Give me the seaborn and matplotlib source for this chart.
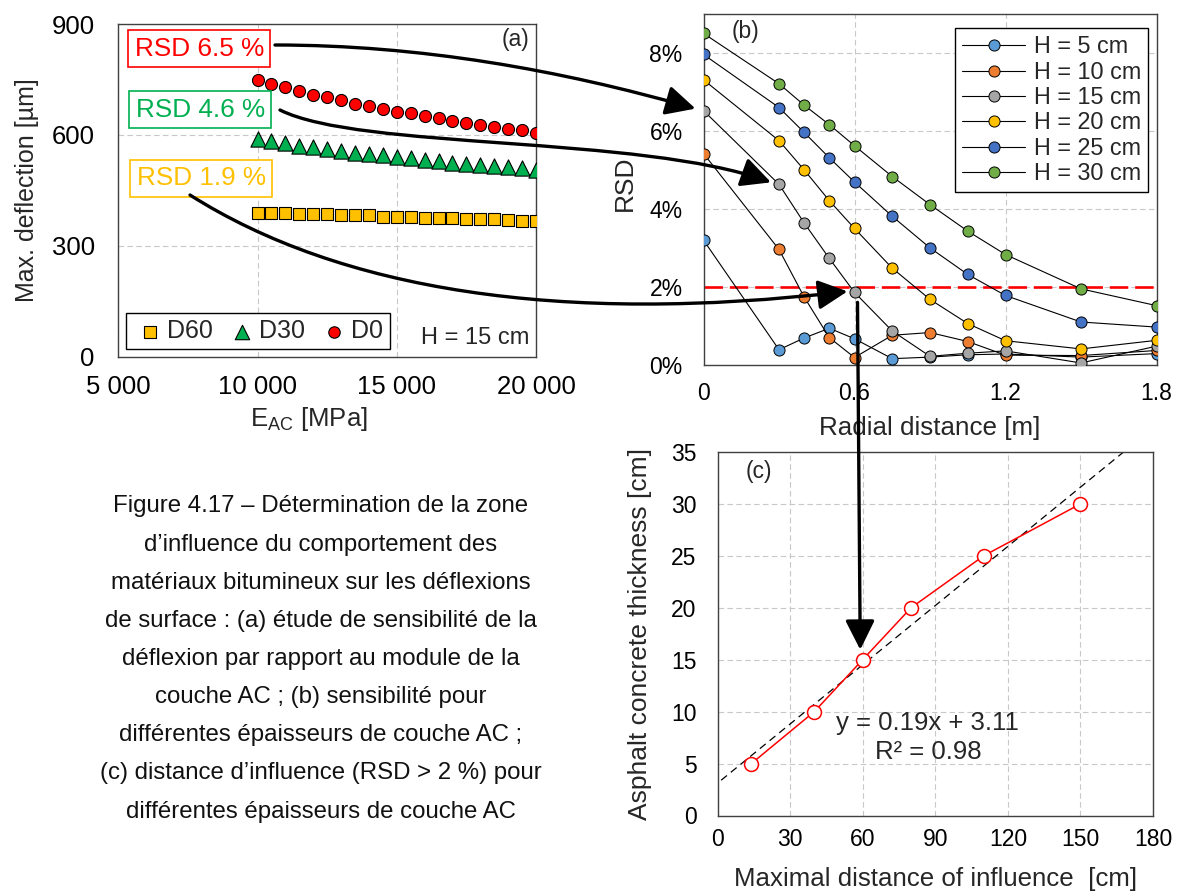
import numpy as np
import seaborn as sns
import matplotlib.pyplot as plt
from matplotlib.path import Path
from matplotlib.patches import FancyArrowPatch
from matplotlib.ticker import FuncFormatter
from matplotlib.transforms import IdentityTransform

# ---- (a) max deflection vs AC modulus (H = 15 cm)
e_ac_mpa = [10000, 10500, 11000, 11500, 12000, 12500, 13000, 13500, 14000, 14500, 15000,
            15500, 16000, 16500, 17000, 17500, 18000, 18500, 19000, 19500, 20000]
d0_um = [748, 738, 730, 720, 709, 702, 694, 684, 677, 669, 663,
         658, 651, 645, 637, 632, 626, 622, 616, 613, 606]
d30_um = [589, 583, 578, 571, 567, 562, 557, 552, 549, 545, 541,
          538, 532, 529, 524, 521, 519, 516, 513, 510, 506]
d60_um = [389, 389, 389, 386, 386, 386, 382, 382, 382, 379, 379,
          379, 376, 376, 376, 372, 372, 372, 369, 368, 367]
rsd_boxes = ["RSD 6.5 %", "RSD 4.6 %", "RSD 1.9 %"]

# ---- (b) RSD vs radial distance for several AC thicknesses
radial_m = [0, 0.3, 0.4, 0.5, 0.6, 0.75, 0.9, 1.05, 1.2, 1.5, 1.8]
rsd_h5 = [3.21, 0.40, 0.70, 0.95, 0.68, 0.17, 0.21, 0.27, 0.29, 0.21, 0.30]
rsd_h10 = [5.43, 2.97, 1.75, 0.71, 0.20, 0.77, 0.84, 0.61, 0.26, 0.25, 0.38]
rsd_h15 = [6.53, 4.64, 3.65, 2.74, 1.87, 0.88, 0.23, 0.31, 0.37, 0.06, 0.49]
rsd_h20 = [7.32, 5.76, 5.01, 4.22, 3.51, 2.49, 1.69, 1.07, 0.63, 0.42, 0.64]
rsd_h25 = [7.97, 6.61, 5.97, 5.32, 4.70, 3.82, 3.01, 2.33, 1.79, 1.11, 0.98]
rsd_h30 = [8.51, 7.22, 6.67, 6.17, 5.63, 4.84, 4.12, 3.44, 2.84, 1.96, 1.53]
h_labels = ["H = 5 cm", "H = 10 cm", "H = 15 cm", "H = 20 cm", "H = 25 cm", "H = 30 cm"]
h_colors = ["#5B9BD5", "#ED7D31", "#A5A5A5", "#FFC000", "#4472C4", "#70AD47"]
rsd_limit = 2.0

# ---- (c) AC thickness vs maximal distance of influence
max_dist_cm = [14, 40, 60, 80, 110, 150]
ac_thick_cm = [5, 10, 15, 20, 25, 30]
fit_slope, fit_intercept, fit_r2 = 0.19, 3.11, 0.98

caption = ("Figure 4.17 – Détermination de la zone\n"
           "d’influence du comportement des\n"
           "matériaux bitumineux sur les déflexions\n"
           "de surface : (a) étude de sensibilité de la\n"
           "déflexion par rapport au module de la\n"
           "couche AC ; (b) sensibilité pour\n"
           "différentes épaisseurs de couche AC ;\n"
           "(c) distance d’influence (RSD > 2 %) pour\n"
           "différentes épaisseurs de couche AC")

sns.set_theme(style="white")
plt.rcParams["font.family"] = ["Liberation Sans", "DejaVu Sans"]
plt.rcParams["mathtext.fontset"] = "custom"
plt.rcParams["mathtext.rm"] = "Liberation Sans"
plt.rcParams["axes.edgecolor"] = "#404040"
plt.rcParams["axes.linewidth"] = 1.0

W, H = 1183, 892
fig = plt.figure(figsize=(W / 100, H / 100), dpi=100)


def box(l, t, r, b):
    # pixel box (top-left origin) -> figure fraction rect
    return [l / W, 1 - b / H, (r - l) / W, (b - t) / H]


def style(ax, tsize, xpad, ypad):
    ax.grid(True, color="#C8C8C8", linestyle=(0, (5, 3)), linewidth=0.8)
    ax.tick_params(length=0, labelsize=tsize, colors="black")
    ax.tick_params(axis="x", pad=xpad)
    ax.tick_params(axis="y", pad=ypad)
    for s in ax.spines.values():
        s.set_visible(True)
        s.set_color("#404040")


grid_kw = dict(frameon=True, fancybox=False, edgecolor="black", framealpha=1, borderaxespad=0)

# ------------------------------------------------------------ panel (a)
ax_a = fig.add_axes(box(118.3, 24, 536, 356.7))
sns.scatterplot(x=e_ac_mpa, y=d60_um, marker="s", color="#FFC000", edgecolor="black",
                linewidth=0.8, s=75, label="D60", ax=ax_a, zorder=3)
sns.scatterplot(x=e_ac_mpa, y=d30_um, marker="^", color="#00B050", edgecolor="black",
                linewidth=0.8, s=120, label="D30", ax=ax_a, zorder=3)
sns.scatterplot(x=e_ac_mpa, y=d0_um, marker="o", color="#FF0000", edgecolor="black",
                linewidth=0.8, s=75, label="D0", ax=ax_a, zorder=3)
ax_a.set_xlim(5000, 20000)
ax_a.set_ylim(0, 900)
ax_a.set_xticks([5000, 10000, 15000, 20000])
ax_a.set_yticks([0, 300, 600, 900])
ax_a.xaxis.set_major_formatter(FuncFormatter(lambda v, p: f"{v:,.0f}".replace(",", " ")))
style(ax_a, 18.5, 13, 17)
ax_a.set_xlabel(r"E$_{\mathregular{AC}}$ [MPa]", fontsize=18.5)
ax_a.set_ylabel("Max. deflection [µm]", fontsize=18)
ax_a.xaxis.set_label_coords(0.4566, -0.145)
ax_a.yaxis.set_label_coords(-0.19, 0.5)
leg_a = ax_a.legend(loc="lower left", bbox_to_anchor=(0.018, 0.022), ncol=3, fontsize=18,
                    handletextpad=0.0, columnspacing=0.45, borderpad=0.25, handlelength=1.4,
                    markerscale=0.95, **grid_kw)
leg_a.get_frame().set_linewidth(1.0)
ax_a.text(0.985, 0.038, "H = 15 cm", transform=ax_a.transAxes, ha="right", va="baseline",
          fontsize=17)
ax_a.text(0.985, 0.952, "(a)", transform=ax_a.transAxes, ha="right", va="center", fontsize=16.5)
box_colors = ["#FF0000", "#00B050", "#FFC000"]
box_pos = [(0.194, 0.925), (0.196, 0.742), (0.199, 0.536)]
for txt, col, (bx, by) in zip(rsd_boxes, box_colors, box_pos):
    ax_a.text(bx, by, txt, transform=ax_a.transAxes, ha="center", va="center", fontsize=18.8,
              color=col, zorder=5,
              bbox=dict(boxstyle="square,pad=0.25", facecolor="white", edgecolor=col, linewidth=1.2))

# ------------------------------------------------------------ panel (b)
ax_b = fig.add_axes(box(703.5, 14.3, 1156.5, 365.3))
ax_b.axhline(rsd_limit, color="red", linewidth=1.9, dashes=(7, 2.6), zorder=2.5)
for lab, vals, col in zip(h_labels, [rsd_h5, rsd_h10, rsd_h15, rsd_h20, rsd_h25, rsd_h30], h_colors):
    sns.lineplot(x=radial_m, y=vals, color="black", linewidth=0.8, marker="o", markersize=8,
                 markerfacecolor=col, markeredgecolor="black", markeredgewidth=0.7,
                 label=lab, ax=ax_b, zorder=3)
ax_b.set_xlim(0, 1.8)
ax_b.set_ylim(0, 9)
ax_b.set_xticks([0, 0.6, 1.2, 1.8])
ax_b.set_xticklabels(["0", "0.6", "1.2", "1.8"])
ax_b.set_yticks([0, 2, 4, 6, 8])
ax_b.yaxis.set_major_formatter(FuncFormatter(lambda v, p: f"{v:.0f}%"))
style(ax_b, 16.5, 12, 15)
ax_b.set_xlabel("Radial distance [m]", fontsize=18.7)
ax_b.set_ylabel("RSD", fontsize=19)
ax_b.xaxis.set_label_coords(0.5, -0.1444)
ax_b.yaxis.set_label_coords(-0.148, 0.52)
leg_b = ax_b.legend(loc="upper right", bbox_to_anchor=(0.981, 0.96), fontsize=16.8,
                    handlelength=2.7, labelspacing=0.1, borderpad=0.3, handletextpad=0.35,
                    **grid_kw)
leg_b.get_frame().set_linewidth(1.0)
ax_b.text(0.092, 0.95, "(b)", transform=ax_b.transAxes, ha="center", va="center", fontsize=16.5)

# ------------------------------------------------------------ panel (c)
ax_c = fig.add_axes(box(717.5, 452, 1153, 815.5))
fit_x = np.array([1.5, (35 - fit_intercept) / fit_slope])
sns.lineplot(x=fit_x, y=fit_slope * fit_x + fit_intercept, color="black", linewidth=0.9,
             linestyle=(0, (6, 4)), ax=ax_c, zorder=2)
sns.lineplot(x=max_dist_cm, y=ac_thick_cm, color="red", linewidth=1.1, marker="o", markersize=10,
             markerfacecolor="white", markeredgecolor="red", markeredgewidth=1.1, ax=ax_c, zorder=3)
ax_c.set_xlim(0, 180)
ax_c.set_ylim(0, 35)
ax_c.set_xticks(range(0, 181, 30))
ax_c.set_yticks(range(0, 36, 5))
style(ax_c, 16.5, 9, 15)
ax_c.set_xlabel("Maximal distance of influence  [cm]", fontsize=18.6)
ax_c.set_ylabel("Asphalt concrete thickness [cm]", fontsize=19)
ax_c.xaxis.set_label_coords(0.5, -0.1417)
ax_c.yaxis.set_label_coords(-0.150, 0.5)
ax_c.text(0.483, 0.2553, f"y = {fit_slope:.2f}x + {fit_intercept:.2f}", transform=ax_c.transAxes,
          ha="center", va="center", fontsize=18.5)
ax_c.text(0.483, 0.1755, f"R² = {fit_r2:.2f}", transform=ax_c.transAxes,
          ha="center", va="center", fontsize=18.5)
ax_c.text(0.095, 0.946, "(c)", transform=ax_c.transAxes, ha="center", va="center", fontsize=16.5)

# ------------------------------------------------------------ caption
fig.text(320.8 / W, 1 - 659 / H, caption, ha="center", va="center", multialignment="center",
         fontsize=17.3, linespacing=1.95, color="#111111")

# ------------------------------------------------------------ arrows
def px(x, y):
    return (x, H - y)


def on(ax, x, y, dx=0, dy=0):
    X, Y = ax.transData.transform((x, y))
    return (X + dx, Y + dy)


def curve_arrow(points, straight=False):
    codes = [Path.MOVETO, Path.LINETO] if straight else [Path.MOVETO] + [Path.CURVE4] * 3
    arr = FancyArrowPatch(path=Path(points, codes), transform=IdentityTransform(),
                          arrowstyle="-|>,head_length=0.9,head_width=0.45",
                          mutation_scale=20, linewidth=2.4, color="black",
                          shrinkA=0, shrinkB=0, zorder=6)
    fig.add_artist(arr)


curve_arrow([px(275, 45), px(420, 45), px(560, 70), on(ax_b, radial_m[0], rsd_h15[0], -8, 2)])
curve_arrow([px(280, 110), px(360, 150), px(640, 135), on(ax_b, radial_m[1], rsd_h15[1], -8, 2)])
curve_arrow([px(190, 195), px(340, 290), px(560, 325), on(ax_b, radial_m[4], rsd_h15[4], -7, 1)])
curve_arrow([on(ax_b, radial_m[4], rsd_h15[4], 3, -10), on(ax_c, 59, ac_thick_cm[2], 0, 10)],
            straight=True)

fig.savefig("out.png", dpi=100)
